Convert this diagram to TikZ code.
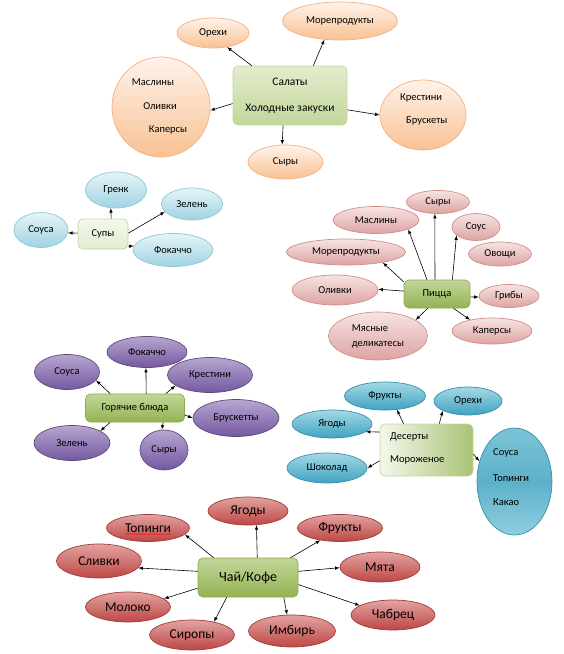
\documentclass[tikz,border=0pt]{standalone}
\usepackage{fontspec}
\setmainfont{Carlito}
\usetikzlibrary{shapes.geometric,decorations.pathmorphing}

\definecolor{peachT}{HTML}{FEF3EA}
\definecolor{peachB}{HTML}{F9C193}
\definecolor{peachE}{HTML}{F4B183}
\definecolor{skyT}{HTML}{E6F4F8}
\definecolor{skyB}{HTML}{9FD3E2}
\definecolor{skyE}{HTML}{8CC8DA}
\definecolor{roseT}{HTML}{F6E4E3}
\definecolor{roseB}{HTML}{DDA3A1}
\definecolor{roseE}{HTML}{D08E8C}
\definecolor{plumT}{HTML}{B6A6D0}
\definecolor{plumB}{HTML}{7458A0}
\definecolor{plumE}{HTML}{5F497A}
\definecolor{lagoonT}{HTML}{A3D9E7}
\definecolor{lagoonB}{HTML}{3FA3BF}
\definecolor{lagoonE}{HTML}{3A8FA8}
\definecolor{berryT}{HTML}{E2A3A1}
\definecolor{berryB}{HTML}{BD4744}
\definecolor{berryE}{HTML}{A33C3A}
\definecolor{leafT}{HTML}{C2D69A}
\definecolor{leafB}{HTML}{94B352}
\definecolor{leafE}{HTML}{8BAA4E}
\definecolor{paleT}{HTML}{F4F8EC}
\definecolor{paleB}{HTML}{E3ECCE}
\definecolor{paleE}{HTML}{C3D69B}

\tikzset{
  bubble/.style={ellipse, draw, inner sep=0pt, line width=0.7pt, font=\fontsize{10.5}{15}\selectfont},
  wh/.style 2 args={minimum width=#1, minimum height=#2},
  peach/.style={bubble, draw=peachE, top color=peachT, bottom color=peachB},
  sky/.style={bubble, draw=skyE, top color=skyT, bottom color=skyB},
  rose/.style={bubble, draw=roseE, top color=roseT, bottom color=roseB},
  plum/.style={bubble, draw=plumE, top color=plumT, bottom color=plumB},
  lagoon/.style={bubble, draw=lagoonE, top color=lagoonT, bottom color=lagoonB},
  berry/.style={bubble, draw=berryE, top color=berryT, bottom color=berryB, font=\fontsize{13.5}{16}\selectfont},
  hub/.style={rectangle, rounded corners=5pt, draw=leafE, line width=0.7pt, top color=leafT, bottom color=leafB, inner sep=0pt, font=\fontsize{10.5}{15}\selectfont},
  txt/.style={inner sep=0pt, font=\fontsize{10.5}{12}\selectfont},
  link/.style={draw, ->, >=latex, line width=0.6pt},
}

\begin{document}
\begin{tikzpicture}[x=1pt, y=-1pt]
\useasboundingbox (0,0) rectangle (564,654);

% Салаты
\node[hub, wh={114}{59}, draw=leafT, top color=paleB, bottom color=leafT, align=center, font=\fontsize{11.5}{26}\selectfont] (sal) at (290,95.5) {Салаты\\Холодные закуски};
\node[peach, wh={72}{30}] (sal-orekhi) at (213,33) {Орехи};
\node[peach, wh={115}{38}] (sal-more) at (340,21) {Морепродукты};
\node[peach, wh={98}{100}] (sal-olive) at (161,107) {};
\node[txt] (sal-olive1) at (153,82) {Маслины};
\node[txt] (sal-olive2) at (160,106) {Оливки};
\node[txt] (sal-olive3) at (168,130) {Каперсы};
\node[peach, wh={86}{70}] (sal-bread) at (423,115) {};
\node[txt, anchor=west] (sal-bread1) at (400,98) {Крестини};
\node[txt, anchor=west] (sal-bread2) at (406,121) {Брускеты};
\node[peach, wh={75}{34}] (sal-syry) at (285.5,162) {Сыры};

\path[link] (sal.142) -- (sal-orekhi.-45);
\path[link] (sal.52) -- (sal-more.-130);
\path[link] (sal.188) -- (sal-olive.-4);
\path[link] (sal.-14.5) -- (sal-bread.180);
\path[link] (sal.-103) -- (sal-syry.101);

% Супы
\node[hub, wh={50}{30}, draw=paleE, top color=paleT, bottom color=paleB] (sup) at (103,234) {Супы};
\node[sky, wh={61}{36}] (sup-grenk) at (116,190) {Гренк};
\node[sky, wh={61}{32}] (sup-zelen) at (192,204) {Зелень};
\node[sky, wh={54}{35}] (sup-sousa) at (41,230) {Соуса};
\node[sky, wh={80}{33}] (sup-fok) at (173,250) {Фокаччо};

\path[link] (sup.62) -- (sup-grenk.-106);
\path[link] (sup.2) -- (sup-zelen.-164);
\path[link] (sup.178) -- (sup-sousa.-6);
\path[link] (sup.-26) -- (sup-fok.174);

% Пицца
\node[hub, wh={66}{28}] (piz) at (437,294) {Пицца};
\node[rose, wh={63}{23}] (piz-syry) at (438,202) {Сыры};
\node[rose, wh={86}{27}] (piz-masl) at (376,220) {Маслины};
\node[rose, wh={48}{27}] (piz-sous) at (476,227) {Соус};
\node[rose, wh={119}{26}] (piz-more) at (346,252) {Морепродукты};
\node[rose, wh={63}{24}] (piz-ovo) at (500,254) {Овощи};
\node[rose, wh={86}{30}] (piz-oliv) at (335,290) {Оливки};
\node[rose, wh={60}{23}] (piz-grib) at (509,296) {Грибы};
\node[rose, wh={99}{48}, align=left] (piz-meat) at (378,336) {Мясные\\деликатесы};
\node[rose, wh={80}{26}] (piz-kap) at (492,331) {Каперсы};

\path[link] (piz.98) -- (piz-syry.-105);
\path[link] (piz.125) -- (piz-masl.-16);
\path[link] (piz.43) -- (piz-sous.-157);
\path[link] (piz.160) -- (piz-more.-16);
\path[link] (piz.175) -- (piz-oliv.1);
\path[link] (piz.-5) -- (piz-grib.-178);
\path[link] (piz.-123) -- (piz-meat.23);
\path[link] (piz.-41) -- (piz-kap.153);

% Горячие блюда
\node[hub, wh={99}{28}] (hot) at (135,408) {Горячие блюда};
\node[plum, wh={80}{31}] (hot-fok) at (147,352) {Фокаччо};
\node[plum, wh={65}{35}] (hot-sous) at (67,372) {Соуса};
\node[plum, wh={85}{35}] (hot-krost) at (210,375) {Крестини};
\node[plum, wh={86}{37}] (hot-brus) at (236,418) {Брускетты};
\node[plum, wh={76}{35}] (hot-zel) at (72,443) {Зелень};
\node[plum, wh={48}{40}] (hot-syry) at (164,450) {Сыры};

\path[link] (hot.52) -- (hot-fok.-94);
\path[link] (hot.150) -- (hot-sous.-16);
\path[link] (hot.25) -- (hot-krost.-163);
\path[link] (hot.-8) -- (hot-brus.180);
\path[link] (hot.-150) -- (hot-zel.23);
\path[link] (hot.-27) -- (hot-syry.96);

% Десерты
\node[hub, wh={93}{52}, draw=paleE, left color=paleT, right color=leafB!80] (des) at (426.5,450) {};
\node[txt, anchor=west] (des1) at (390,437) {Десерты};
\node[txt, anchor=west] (des2) at (390,460) {Мороженое};
\node[lagoon, wh={81}{28}] (des-fr) at (385,396) {Фрукты};
\node[lagoon, wh={68}{28}] (des-or) at (468,401) {Орехи};
\node[lagoon, wh={80}{28}] (des-yag) at (332,424) {Ягоды};
\node[lagoon, wh={80}{30}] (des-shok) at (327,468) {Шоколад};
\node[lagoon, wh={75}{107}, top color=lagoonT!60!lagoonB, bottom color=lagoonT!80!lagoonB, middle color=lagoonB!85!white] (des-top) at (514.5,481.5) {};
\node[txt, anchor=west] (des-top1) at (493,453) {Соуса};
\node[txt, anchor=west] (des-top2) at (493,478) {Топинги};
\node[txt, anchor=west] (des-top3) at (493,502) {Какао};

\path[link] (des.131) -- (des-fr.-49);
\path[link] (des.64) -- (des-or.-159);
\path[link] (des.159) -- (des-yag.-13);
\path[link] (des.193) -- (des-shok.0);
\path[link] (des.-5) -- (des-top.150);

% Чай/Кофе
\node[hub, wh={100}{39}, font=\fontsize{14}{16}\selectfont] (tea) at (248,577.5) {Чай/Кофе};
\node[berry, wh={80}{28}] (tea-yag) at (248,511) {Ягоды};
\node[berry, wh={83}{27}] (tea-top) at (148,528) {Топинги};
\node[berry, wh={85}{27}] (tea-fr) at (340,528) {Фрукты};
\node[berry, wh={85}{34}] (tea-sliv) at (99,561) {Сливки};
\node[berry, wh={80}{30}] (tea-myata) at (380,567) {Мята};
\node[berry, wh={85}{30}] (tea-mol) at (128,607) {Молоко};
\node[berry, wh={84}{30}] (tea-chab) at (393,615) {Чабрец};
\node[berry, wh={85}{30}] (tea-sir) at (192,635) {Сиропы};
\node[berry, wh={87}{32}] (tea-imb) at (292,631) {Имбирь};
\draw[red, decorate, decoration={snake, amplitude=0.5pt, segment length=2.5pt}] ([xshift=-23pt, yshift=-6pt]tea-top.center) -- ([xshift=23pt, yshift=-6pt]tea-top.center);

\path[link] (tea.65) -- (tea-yag.-59);
\path[link] (tea.150) -- (tea-top.-10);
\path[link] (tea.25) -- (tea-fr.-148);
\path[link] (tea.173) -- (tea-sliv.-10);
\path[link] (tea.7) -- (tea-myata.-179);
\path[link] (tea.-168) -- (tea-mol.13);
\path[link] (tea.-8.5) -- (tea-chab.164);
\path[link] (tea.-137) -- (tea-sir.31);
\path[link] (tea.-29) -- (tea-imb.107);
\end{tikzpicture}
\end{document}
